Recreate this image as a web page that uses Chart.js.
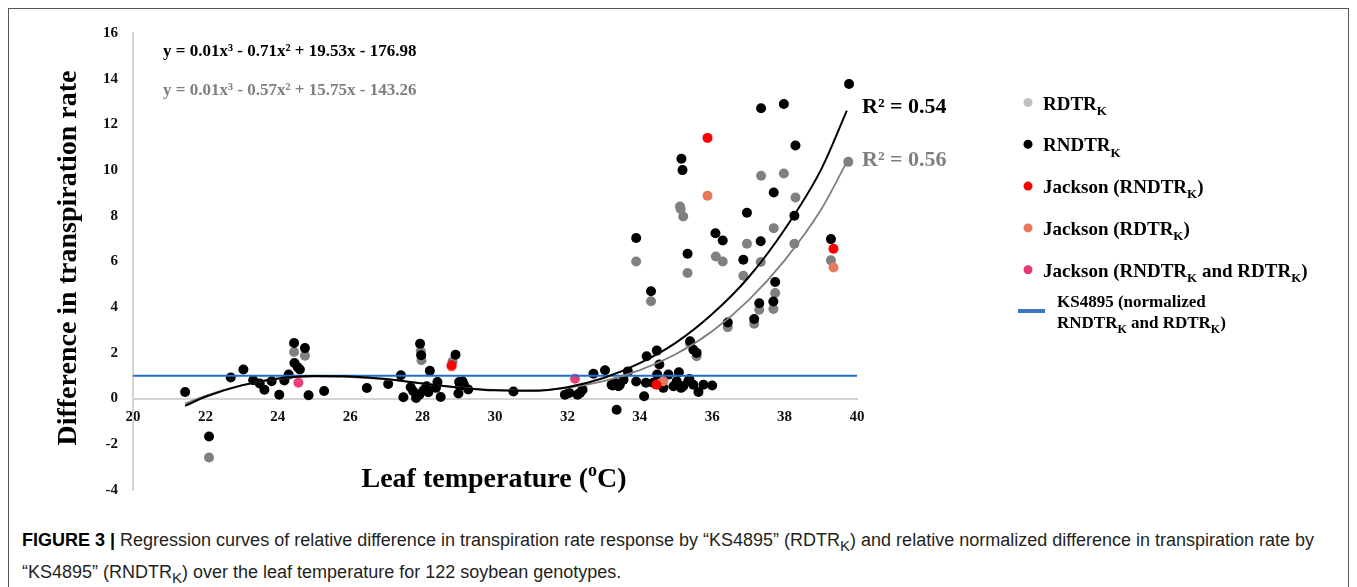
<!DOCTYPE html>
<html>
<head>
<meta charset="utf-8">
<script src="https://cdn.jsdelivr.net/npm/chart.js@4.4.1/dist/chart.umd.min.js"></script>
<style>
  body { margin: 0; background: #fff; width: 1357px; height: 587px; overflow: hidden; position: relative; }
  #frame { position: absolute; left: 8px; top: 8px; width: 1339px; height: 600px; border: 1.5px solid #555; }
  #chart { position: absolute; left: 0; top: 0; }
  #caption { position: absolute; left: 22px; top: 527px; font-family: "Liberation Sans", Arial, sans-serif;
             font-size: 18px; line-height: 27px; color: #231f20; white-space: nowrap; }
  #caption b { color: #000; }
</style>
</head>
<body>
<div id="frame"></div>
<canvas id="chart" width="1357" height="514"></canvas>
<div id="caption">
  <b>FIGURE 3 |</b> Regression curves of relative difference in transpiration rate response by “KS4895” (RDTR<sub>K</sub>) and relative normalized difference in transpiration rate by<br>
  “KS4895” (RNDTR<sub>K</sub>) over the leaf temperature for 122 soybean genotypes.
</div>
<script>
// Leaf temperature (x, oC) vs difference in transpiration rate (y)

// RNDTR_K points (black)
const rndtrPoints = [
  [21.44, 0.29], [22.10, -1.66], [22.70, 0.92], [23.05, 1.27], [23.32, 0.80], [23.50, 0.66],
  [23.63, 0.39], [23.83, 0.76], [24.04, 0.17], [24.18, 0.79], [24.30, 1.05], [24.45, 2.43],
  [24.46, 1.56], [24.55, 1.37], [24.61, 1.27], [24.75, 2.21], [24.85, 0.15], [25.28, 0.33],
  [26.46, 0.46], [27.05, 0.64], [27.40, 1.02], [27.47, 0.06], [27.67, 0.50], [27.74, 0.32],
  [27.82, 0.03], [27.91, 0.17], [27.93, 2.40], [27.96, 1.90], [28.02, 0.35], [28.11, 0.54],
  [28.16, 0.28], [28.20, 1.22], [28.37, 0.47], [28.41, 0.73], [28.50, 0.07], [28.91, 1.92],
  [28.99, 0.22], [29.01, 0.73], [29.03, 0.54], [29.10, 0.76], [29.14, 0.62], [29.26, 0.40],
  [30.51, 0.31], [31.93, 0.17], [32.05, 0.25], [32.28, 0.17], [32.35, 0.25], [32.42, 0.39],
  [32.72, 1.09], [33.04, 1.24], [33.22, 0.61], [33.25, 0.57], [33.31, 0.69], [33.36, -0.49],
  [33.41, 0.54], [33.45, 0.61], [33.55, 0.83], [33.67, 1.19], [33.90, 0.75], [33.90, 7.03],
  [34.12, 0.10], [34.17, 0.69], [34.19, 1.85], [34.31, 4.70], [34.37, 0.69], [34.47, 2.10],
  [34.48, 1.05], [34.54, 1.49], [34.65, 0.47], [34.79, 1.05], [34.93, 0.54], [35.02, 0.76],
  [35.08, 1.15], [35.14, 0.47], [35.15, 10.50], [35.18, 10.00], [35.20, 0.54], [35.32, 6.34],
  [35.34, 0.76], [35.37, 0.86], [35.39, 2.51], [35.48, 0.61], [35.48, 2.14], [35.57, 2.00],
  [35.62, 0.29], [35.76, 0.61], [36.00, 0.57], [36.09, 7.24], [36.29, 6.92], [36.43, 3.33],
  [36.86, 6.08], [36.96, 8.13], [37.16, 3.48], [37.30, 4.17], [37.34, 6.89], [37.35, 12.71],
  [37.69, 4.25], [37.70, 9.02], [37.74, 5.10], [37.98, 12.89], [38.27, 8.00], [38.30, 11.08],
  [39.28, 6.98], [39.78, 13.77]
];

// RDTR_K points (grey), only the ones not hidden behind black dots
const rdtrPoints = [
  [22.10, -2.58], [24.45, 2.04], [24.75, 1.88], [27.95, 2.07], [27.97, 1.68], [28.83, 1.63],
  [33.90, 6.00], [34.31, 4.26], [35.11, 8.41], [35.13, 8.30], [35.20, 7.97], [35.32, 5.50],
  [35.39, 2.40], [35.57, 1.85], [36.10, 6.22], [36.29, 6.00], [36.43, 3.12], [36.86, 5.38],
  [36.96, 6.78], [37.16, 3.28], [37.30, 3.89], [37.34, 5.98], [37.35, 9.75], [37.69, 3.92],
  [37.70, 7.46], [37.74, 4.62], [37.98, 9.85], [38.27, 6.78], [38.30, 8.80], [39.28, 6.05],
  [39.76, 10.36]
];

// Jackson check
const jacksonRndtr = [[28.80, 1.46], [34.46, 0.61], [35.87, 11.41], [39.35, 6.56]];
const jacksonRdtr = [[28.80, 1.40], [34.65, 0.76], [35.87, 8.88], [39.35, 5.74]];
const jacksonBoth = [[24.57, 0.69], [32.21, 0.87]];

// KS4895 normalized level
const ks4895Level = 1;

// fitted cubic trend lines, read at these temperatures
const fitX = [21.44, 22, 23, 24, 25, 26, 27, 28, 29, 30, 31, 32, 33, 34, 35, 36, 37, 38, 39, 39.72];
const fitRndtrY = [-0.32, 0.08, 0.58, 0.88, 0.99, 0.97, 0.86, 0.66, 0.48, 0.36, 0.34, 0.50, 0.90, 1.55, 2.45, 3.70, 5.30, 7.40, 10.0, 12.6];
const fitRdtrY = [-0.22, 0.12, 0.58, 0.86, 0.96, 0.94, 0.84, 0.66, 0.49, 0.38, 0.36, 0.47, 0.76, 1.25, 1.95, 2.95, 4.30, 6.05, 8.25, 10.36];

const xMin = 20, xMax = 40, xStep = 2;
const yMin = -4, yMax = 16, yStep = 2;

const serif = '"Liberation Serif", "Times New Roman", serif';

function pts(arr) {
  return arr.map(p => ({x: p[0], y: p[1]}));
}
function fitPts(ys) {
  return fitX.map((x, i) => ({x: x, y: ys[i]}));
}

// draws a run of bold serif text where some parts are subscripts
function drawRuns(ctx, x, y, runs, size, color) {
  let cx = x;
  ctx.fillStyle = color;
  ctx.textAlign = 'left';
  ctx.textBaseline = 'alphabetic';
  runs.forEach(r => {
    const s = r[1] ? Math.round(size * 0.68) : size;
    ctx.font = 'bold ' + s + 'px ' + serif;
    ctx.fillText(r[0], cx, r[1] ? y + size * 0.28 : y);
    cx += ctx.measureText(r[0]).width;
  });
  return cx - x;
}

const legendRows = [
  {color: '#c0c0c0', runs: [['RDTR', 0], ['K', 1]]},
  {color: '#000000', runs: [['RNDTR', 0], ['K', 1]]},
  {color: '#ff0000', runs: [['Jackson (RNDTR', 0], ['K', 1], [')', 0]]},
  {color: '#e8795a', runs: [['Jackson (RDTR', 0], ['K', 1], [')', 0]]},
  {color: '#e23a74', runs: [['Jackson (RNDTR', 0], ['K', 1], [' and RDTR', 0], ['K', 1], [')', 0]]}
];

const annotations = {
  id: 'annotations',
  afterDraw(chart) {
    const ctx = chart.ctx;
    ctx.save();

    // axis titles
    ctx.fillStyle = '#000';
    ctx.font = 'bold 28px ' + serif;
    ctx.textAlign = 'center';
    ctx.textBaseline = 'alphabetic';
    ctx.save();
    ctx.translate(76, 258);
    ctx.rotate(-Math.PI / 2);
    ctx.fillText('Difference in transpiration rate', 0, 0);
    ctx.restore();

    ctx.textAlign = 'left';
    const a = 'Leaf temperature (', b = 'C)';
    ctx.font = 'bold 28px ' + serif;
    const wa = ctx.measureText(a).width, wb = ctx.measureText(b).width;
    ctx.font = 'bold 18px ' + serif;
    const wo = ctx.measureText('o').width;
    let x0 = 494 - (wa + wo + wb) / 2;
    ctx.font = 'bold 28px ' + serif;
    ctx.fillText(a, x0, 487);
    ctx.font = 'bold 18px ' + serif;
    ctx.fillText('o', x0 + wa, 476);
    ctx.font = 'bold 28px ' + serif;
    ctx.fillText(b, x0 + wa + wo, 487);

    // fit equations
    ctx.font = 'bold 17px ' + serif;
    ctx.fillStyle = '#000';
    ctx.fillText('y = 0.01x³ - 0.71x² + 19.53x - 176.98', 163, 56);
    ctx.fillStyle = '#7f7f7f';
    ctx.fillText('y = 0.01x³ - 0.57x² + 15.75x - 143.26', 163, 95);

    // R squared
    ctx.font = 'bold 22px ' + serif;
    ctx.fillStyle = '#000';
    ctx.fillText('R² = 0.54', 862, 113);
    ctx.fillStyle = '#7f7f7f';
    ctx.fillText('R² = 0.56', 862, 166);

    // legend
    legendRows.forEach((row, i) => {
      const by = 109.5 + i * 41.8;
      ctx.beginPath();
      ctx.arc(1028, by - 7, 4.5, 0, Math.PI * 2);
      ctx.fillStyle = row.color;
      ctx.fill();
      drawRuns(ctx, 1043, by, row.runs, 19, '#000');
    });
    ctx.fillStyle = '#4472c4';
    ctx.fillRect(1018, 309, 27, 4);
    drawRuns(ctx, 1057, 307, [['KS4895 (normalized', 0]], 17, '#000');
    drawRuns(ctx, 1057, 328, [['RNDTR', 0], ['K', 1], [' and RDTR', 0], ['K', 1], [')', 0]], 17, '#000');

    ctx.restore();
  }
};

const tickFont = {family: serif, size: 15, weight: 'bold'};

new Chart(document.getElementById('chart'), {
  type: 'scatter',
  data: {
    datasets: [
      {label: 'RNDTR fit', data: fitPts(fitRndtrY), showLine: true, borderColor: '#000', borderWidth: 2,
       pointRadius: 0, cubicInterpolationMode: 'monotone', order: 1},
      {label: 'RDTR fit', data: fitPts(fitRdtrY), showLine: true, borderColor: '#7f7f7f', borderWidth: 1.8,
       pointRadius: 0, cubicInterpolationMode: 'monotone', order: 2},
      {label: 'KS4895', data: [{x: xMin, y: ks4895Level}, {x: xMax, y: ks4895Level}], showLine: true,
       borderColor: '#1f6fd0', borderWidth: 2, pointRadius: 0, order: 3},
      {label: 'Jackson (RNDTR and RDTR)', data: pts(jacksonBoth), backgroundColor: '#e8407a', pointRadius: 5,
       pointBorderWidth: 0, order: 4},
      {label: 'Jackson (RNDTR)', data: pts(jacksonRndtr), backgroundColor: '#ff0000', pointRadius: 5,
       pointBorderWidth: 0, order: 5},
      {label: 'Jackson (RDTR)', data: pts(jacksonRdtr), backgroundColor: '#e8795a', pointRadius: 5,
       pointBorderWidth: 0, order: 6},
      {label: 'RNDTR', data: pts(rndtrPoints), backgroundColor: '#000', pointRadius: 5,
       pointBorderWidth: 0, order: 7},
      {label: 'RDTR', data: pts(rdtrPoints), backgroundColor: '#808080', pointRadius: 5,
       pointBorderWidth: 0, order: 8}
    ]
  },
  options: {
    responsive: false,
    animation: false,
    devicePixelRatio: 1,
    layout: {padding: {left: 0, top: 33, right: 500, bottom: 10}},
    plugins: {legend: {display: false}, tooltip: {enabled: false}},
    scales: {
      x: {
        type: 'linear', min: xMin, max: xMax, position: {y: 0},
        ticks: {stepSize: xStep, padding: 10, color: '#111', font: tickFont, maxRotation: 0},
        grid: {display: false, drawTicks: false},
        border: {display: true, color: '#d4d4d4', width: 2},
        afterFit: s => { s.height = 0; }
      },
      y: {
        type: 'linear', min: yMin, max: yMax,
        ticks: {stepSize: yStep, padding: 15, color: '#111', font: tickFont},
        grid: {display: false, drawTicks: false},
        border: {display: true, color: '#d4d4d4', width: 2},
        afterFit: s => { s.width = 133; }
      }
    }
  },
  plugins: [annotations]
});
</script>
</body>
</html>
